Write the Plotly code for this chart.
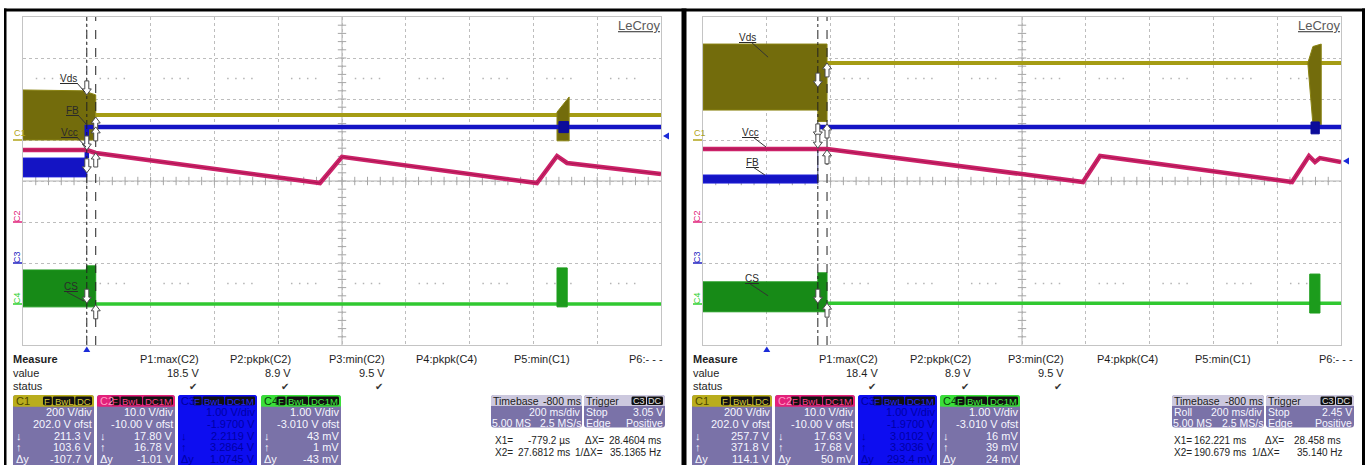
import numpy as np
import plotly.graph_objects as go

# ======================= DATA =======================
# Trace levels read off the two LeCroy captures.
# time axis: divisions 0..10 (200 ms/div), level axis: divisions -4..+4

# ---------- left capture ----------
L_CURSORS = [1.0, 1.14]
L_TRIG_T = 1.0
L_TRIG_LEVEL = 1.10
L_VDS_SW_T = [0.0, 0.95, 1.14]
L_VDS_SW_HI = [2.22, 2.20, 2.10]
L_VDS_SW_LO = [1.0, 1.0, 1.0]
L_VDS_T = [1.14, 10.0]
L_VDS_V = [1.61, 1.61]
L_VDS_BURST_T = [8.37, 8.56]
L_VDS_BURST_HI = [1.68, 2.05]
L_VDS_BURST_LO = [0.98, 0.98]
L_FB_SW_T = [0.0, 1.0]
L_FB_SW_HI = [0.56, 0.56]
L_FB_SW_LO = [0.10, 0.10]
L_FB_T = [1.0, 1.0, 10.0]
L_FB_V = [0.56, 1.32, 1.32]
L_FB_BURST_T = [8.40, 8.55]
L_FB_BURST_HI = [1.45, 1.45]
L_FB_BURST_LO = [1.18, 1.18]
L_VCC_T = [0.0, 1.0, 1.14, 4.655, 5.0, 8.056, 8.37, 8.527, 10.0]
L_VCC_V = [0.756, 0.756, 0.683, -0.05, 0.59, -0.05, 0.61, 0.44, 0.17]
L_CS_SW_T = [0.0, 0.99, 1.0, 1.14]
L_CS_SW_HI = [-2.17, -2.17, -2.07, -2.07]
L_CS_SW_LO = [-3.07, -3.07, -3.07, -3.07]
L_CS_T = [1.14, 10.0]
L_CS_V = [-3.0, -3.0]
L_CS_BURST_T = [8.37, 8.53]
L_CS_BURST_HI = [-2.12, -2.12]
L_CS_BURST_LO = [-3.07, -3.07]
# cursor read-outs marked by arrows: (cursor index, level, direction)
L_ARROWS = [(0, 2.10, 'down'), (1, 1.56, 'up'), (0, 0.20, 'down'), (1, 1.32, 'up'),
            (0, 0.756, 'down'), (1, 0.683, 'up'), (0, -2.98, 'down'), (1, -3.02, 'up')]

# ---------- right capture ----------
R_CURSORS = [1.80, 1.944]
R_TRIG_T = 1.0
R_TRIG_LEVEL = 0.49
R_VDS_SW_T = [0.0, 1.80, 1.80, 1.944]
R_VDS_SW_HI = [3.34, 3.34, 3.34, 3.34]
R_VDS_SW_LO = [1.73, 1.73, 1.45, 1.45]
R_VDS_T = [1.944, 10.0]
R_VDS_V = [2.88, 2.88]
R_VDS_BURST_T = [9.48, 9.56, 9.69]
R_VDS_BURST_HI = [2.88, 3.28, 3.34]
R_VDS_BURST_LO = [2.88, 1.37, 1.37]
R_FB_SW_T = [0.0, 1.80]
R_FB_SW_HI = [0.146, 0.146]
R_FB_SW_LO = [-0.05, -0.05]
R_FB_EDGE_T = [1.80, 1.80]
R_FB_EDGE_V = [0.0, 1.32]
R_FB_T = [1.80, 10.0]
R_FB_V = [1.32, 1.32]
R_FB_BURST_T = [9.53, 9.66]
R_FB_BURST_HI = [1.44, 1.44]
R_FB_BURST_LO = [1.15, 1.15]
R_VCC_T = [0.0, 1.944, 5.956, 6.223, 9.232, 9.498, 9.592, 9.67, 10.0]
R_VCC_V = [0.78, 0.78, -0.024, 0.61, -0.024, 0.61, 0.463, 0.56, 0.463]
R_CS_SW_T = [0.0, 1.80, 1.80, 1.944]
R_CS_SW_HI = [-2.46, -2.46, -2.24, -2.24]
R_CS_SW_LO = [-3.19, -3.19, -3.19, -3.19]
R_CS_T = [1.944, 10.0]
R_CS_V = [-2.98, -2.98]
R_CS_BURST_T = [9.51, 9.67]
R_CS_BURST_HI = [-2.27, -2.27]
R_CS_BURST_LO = [-3.22, -3.22]
R_ARROWS = [(0, 2.29, 'down'), (1, 2.88, 'up'), (0, 1.05, 'down'), (1, 1.39, 'up'),
            (0, 0.80, 'down'), (1, 0.76, 'up'), (0, -2.98, 'down'), (1, -2.98, 'up')]

# ---------- measurement texts ----------
MEAS_NAMES = ["P1:max(C2)", "P2:pkpk(C2)", "P3:min(C2)", "P4:pkpk(C4)", "P5:min(C1)", "P6:- - -"]
L_MEAS_VALUES = ["18.5 V", "8.9 V", "9.5 V"]
R_MEAS_VALUES = ["18.4 V", "8.9 V", "9.5 V"]
CH_TAGS = [["F", "BwL", "DC"], ["F", "BwL", "DC1M"], ["F", "BwL", "DC1M"], ["F", "BwL", "DC1M"]]
L_CH_ROWS = [["200 V/div", "202.0 V ofst", "211.3 V", "103.6 V", "-107.7 V"],
             ["10.0 V/div", "-10.00 V ofst", "17.80 V", "16.78 V", "-1.01 V"],
             ["1.00 V/div", "-1.9700 V", "2.2119 V", "3.2864 V", "1.0745 V"],
             ["1.00 V/div", "-3.010 V ofst", "43 mV", "1 mV", "-43 mV"]]
R_CH_ROWS = [["200 V/div", "202.0 V ofst", "257.7 V", "371.8 V", "114.1 V"],
             ["10.0 V/div", "-10.00 V ofst", "17.63 V", "17.68 V", "50 mV"],
             ["1.00 V/div", "-1.9700 V", "3.0102 V", "3.3036 V", "293.4 mV"],
             ["1.00 V/div", "-3.010 V ofst", "16 mV", "39 mV", "24 mV"]]
L_TB = dict(mode="", stop="3.05 V", x1="-779.2 µs", x2="27.6812 ms", dx="28.4604 ms", inv="35.1365 Hz")
R_TB = dict(mode="Roll", stop="2.45 V", x1="162.221 ms", x2="190.679 ms", dx="28.458 ms", inv="35.140 Hz")

# ======================= LAYOUT / DRAWING =======================
W, H = 1371, 465
FONT = "Liberation Sans, Arial, sans-serif"
GX = [23, 703]
GW, GT, GB = 638, 17, 345
PXX = GW / 10.0
PXY = (GB - GT) / 8.0

VDS_FILL, VDS_LINE = "#736c0c", "#a59c14"
FB_COL = "#1414c4"
VCC_COL = "#cc2269"
CS_FILL, CS_LINE = "#178a17", "#30c830"
BODY = "#7a72a8"
HEADLIGHT = "#ccc8de"

fig = go.Figure()
shapes, anns = [], []


def pp(x, y):
    return f"{x / W:.5f},{1 - y / H:.5f}"


def txt(x, y, s, size=11, color="#222", anchor="left", angle=0):
    anns.append(dict(xref="paper", yref="paper", x=x / W, y=1 - y / H, text=s, showarrow=False,
                     xanchor=anchor, yanchor="middle", textangle=angle, borderpad=0, borderwidth=0,
                     font=dict(family=FONT, size=size, color=color)))


def rect(x0, y0, x1, y1, fill):
    shapes.append(dict(type="rect", xref="paper", yref="paper", x0=x0 / W, x1=x1 / W,
                       y0=1 - y1 / H, y1=1 - y0 / H, fillcolor=fill, line=dict(width=0), layer="above"))


def rrect(x0, y0, x1, y1, r, fill):
    path = (f"M {pp(x0 + r, y0)} L {pp(x1 - r, y0)} Q {pp(x1, y0)} {pp(x1, y0 + r)} "
            f"L {pp(x1, y1 - r)} Q {pp(x1, y1)} {pp(x1 - r, y1)} L {pp(x0 + r, y1)} "
            f"Q {pp(x0, y1)} {pp(x0, y1 - r)} L {pp(x0, y0 + r)} Q {pp(x0, y0)} {pp(x0 + r, y0)} Z")
    shapes.append(dict(type="path", xref="paper", yref="paper", path=path, fillcolor=fill,
                       line=dict(width=0), layer="above"))


def pline(x0, y0, x1, y1, color, width=1):
    shapes.append(dict(type="line", xref="paper", yref="paper", x0=x0 / W, x1=x1 / W,
                       y0=1 - y0 / H, y1=1 - y1 / H, line=dict(color=color, width=width), layer="above"))


def ppoly(pts, fill):
    path = "M " + " L ".join(pp(a, b) for a, b in pts) + " Z"
    shapes.append(dict(type="path", xref="paper", yref="paper", path=path, fillcolor=fill,
                       line=dict(width=0), layer="above"))


def ax(i):
    return ("x", "y") if i == 0 else ("x2", "y2")


def line_tr(i, t, v, color, width):
    xa, ya = ax(i)
    fig.add_trace(go.Scatter(x=t, y=v, mode="lines", line=dict(color=color, width=width),
                             xaxis=xa, yaxis=ya, hoverinfo="skip", showlegend=False))


def env_tr(i, t, lo, hi, color, edge=None):
    xa, ya = ax(i)
    xs = list(t) + list(t)[::-1]
    ys = list(hi) + list(lo)[::-1]
    fig.add_trace(go.Scatter(x=xs + [xs[0]], y=ys + [ys[0]], mode="lines", fill="toself",
                             fillcolor=color, line=dict(color=edge or color, width=1),
                             xaxis=xa, yaxis=ya, hoverinfo="skip", showlegend=False))


def arrow(i, t, v, d):
    xa, ya = ax(i)
    hw, sw, hh, L = 4.5 / PXX, 2.0 / PXX, 6.0 / PXY, 14.0 / PXY
    s = 1 if d == "down" else -1
    pts = [(t, v), (t - hw, v + s * hh), (t - sw, v + s * hh), (t - sw, v + s * L),
           (t + sw, v + s * L), (t + sw, v + s * hh), (t + hw, v + s * hh)]
    path = "M " + " L ".join(f"{a:.4f},{b:.4f}" for a, b in pts) + " Z"
    shapes.append(dict(type="path", xref=xa, yref=ya, path=path, fillcolor="white",
                       line=dict(color="#4a4a4a", width=1), layer="above"))


def dline(i, x0, y0, x1, y1, color, width=1, dash="solid", layer="above"):
    xa, ya = ax(i)
    shapes.append(dict(type="line", xref=xa, yref=ya, x0=x0, y0=y0, x1=x1, y1=y1,
                       line=dict(color=color, width=width, dash=dash), layer=layer))


def label(i, t, v, s, leader):
    xa, ya = ax(i)
    anns.append(dict(xref=xa, yref=ya, x=t, y=v, text=f"<u>{s}</u>", showarrow=False,
                     xanchor="center", yanchor="middle", borderpad=0,
                     font=dict(family=FONT, size=10, color="#2a2a2a")))
    (a, b), (c, d) = leader
    dline(i, a, b, c, d, "#333333", 1)


PANEL = [
    dict(cur=L_CURSORS, trig_t=L_TRIG_T, trig_lv=L_TRIG_LEVEL,
         vds=(L_VDS_SW_T, L_VDS_SW_LO, L_VDS_SW_HI, L_VDS_T, L_VDS_V, L_VDS_BURST_T, L_VDS_BURST_LO, L_VDS_BURST_HI),
         fb=(L_FB_SW_T, L_FB_SW_LO, L_FB_SW_HI, L_FB_T, L_FB_V, L_FB_BURST_T, L_FB_BURST_LO, L_FB_BURST_HI),
         vcc=(L_VCC_T, L_VCC_V),
         cs=(L_CS_SW_T, L_CS_SW_LO, L_CS_SW_HI, L_CS_T, L_CS_V, L_CS_BURST_T, L_CS_BURST_LO, L_CS_BURST_HI),
         arrows=L_ARROWS),
    dict(cur=R_CURSORS, trig_t=R_TRIG_T, trig_lv=R_TRIG_LEVEL,
         vds=(R_VDS_SW_T, R_VDS_SW_LO, R_VDS_SW_HI, R_VDS_T, R_VDS_V, R_VDS_BURST_T, R_VDS_BURST_LO, R_VDS_BURST_HI),
         fb=(R_FB_SW_T, R_FB_SW_LO, R_FB_SW_HI, R_FB_T, R_FB_V, R_FB_BURST_T, R_FB_BURST_LO, R_FB_BURST_HI),
         vcc=(R_VCC_T, R_VCC_V),
         cs=(R_CS_SW_T, R_CS_SW_LO, R_CS_SW_HI, R_CS_T, R_CS_V, R_CS_BURST_T, R_CS_BURST_LO, R_CS_BURST_HI),
         arrows=R_ARROWS),
]

# label placements (layout, in screen divisions)
LABELS = [
    [("Vds", 0.713, 2.51, ((0.846, 2.39), (0.97, 2.17))),
     ("FB", 0.768, 1.73, ((0.862, 1.61), (1.0, 1.37))),
     ("Vcc", 0.729, 1.195, ((0.846, 1.07), (0.987, 0.83))),
     ("CS", 0.76, -2.585, ((0.69, -2.71), (0.956, -2.93)))],
    [("Vds", 0.705, 3.49, ((0.768, 3.37), (1.02, 3.02))),
     ("Vcc", 0.752, 1.195, ((0.784, 1.07), (0.987, 0.83))),
     ("FB", 0.768, 0.463, ((0.784, 0.34), (0.97, 0.146))),
     ("CS", 0.768, -2.37, ((0.72, -2.49), (1.02, -2.8)))],
]

tick_x = np.round(np.arange(0.2, 10.0, 0.2), 3)
tick_y = np.round(np.arange(-3.8, 4.0, 0.2), 3)

for i, D in enumerate(PANEL):
    xa, ya = ax(i)
    # centre graticule ticks
    fig.add_trace(go.Scatter(x=tick_x, y=np.zeros_like(tick_x), mode="markers", xaxis=xa, yaxis=ya,
                             marker=dict(symbol="line-ns", size=6, line=dict(width=1, color="#a6a6a6")),
                             hoverinfo="skip", showlegend=False))
    fig.add_trace(go.Scatter(x=np.full_like(tick_y, 5.0), y=tick_y, mode="markers", xaxis=xa, yaxis=ya,
                             marker=dict(symbol="line-ew", size=6, line=dict(width=1, color="#a6a6a6")),
                             hoverinfo="skip", showlegend=False))
    # Vds
    t, lo, hi, lt, lv, bt, blo, bhi = D["vds"]
    env_tr(i, t, lo, hi, VDS_FILL, "#8a8312")
    line_tr(i, lt, lv, VDS_LINE, 4)
    env_tr(i, bt, blo, bhi, VDS_FILL, "#8a8312")
    # FB
    t, lo, hi, lt, lv, bt, blo, bhi = D["fb"]
    env_tr(i, t, lo, hi, FB_COL, "#1e1ed8")
    if i == 1:
        line_tr(i, R_FB_EDGE_T, R_FB_EDGE_V, "#3a3a7a", 1)
    line_tr(i, lt, lv, FB_COL, 4.5)
    env_tr(i, bt, blo, bhi, "#0c0c9a")
    # Vcc
    line_tr(i, D["vcc"][0], D["vcc"][1], VCC_COL, 4.5)
    line_tr(i, D["vcc"][0], D["vcc"][1], "#a8164f", 1)
    # CS
    t, lo, hi, lt, lv, bt, blo, bhi = D["cs"]
    env_tr(i, t, lo, hi, CS_FILL, "#1e9a1e")
    line_tr(i, lt, lv, CS_LINE, 3.5)
    env_tr(i, bt, blo, bhi, "#1c9c1c")

    # graticule extras (beneath the traces)
    dline(i, 5, -4, 5, 4, "#b0b0b0", 1, layer="below")
    dline(i, 0, 0, 10, 0, "#b0b0b0", 1, layer="below")
    for lvl in (2.5, -2.5):
        dline(i, 0.2, lvl, 10, lvl, "#b4b4b4", 1.5,
              "1.5px,6.5px,1.5px,6.5px,1.5px,6.5px,1.5px,38.3px", layer="below")
    # cursors
    dline(i, D["cur"][0], -4, D["cur"][0], 4, "#222222", 1, "dashdot")
    dline(i, D["cur"][1], -4, D["cur"][1], 4, "#222222", 1, "dash")
    for ci, lvl, d in D["arrows"]:
        arrow(i, D["cur"][ci], lvl, d)
    for s, t0, v0, ld in LABELS[i]:
        label(i, t0, v0, s, ld)

    # trigger markers (bottom and right edge)
    gx = GX[i]
    tx = gx + D["trig_t"] * PXX
    ppoly([(tx, GB + 1.5), (tx - 3.5, GB + 7), (tx + 3.5, GB + 7)], "#1a2ad8")
    ty = GT + (4 - D["trig_lv"]) * PXY
    ppoly([(gx + GW + 2, ty), (gx + GW + 8, ty - 3.5), (gx + GW + 8, ty + 3.5)], "#1a2ad8")

    # channel markers on the left margin
    mx = gx - 10
    txt(mx + 1, GT + (4 - 1.0) * PXY - 7, "C1", 9, "#b0a418")
    pline(mx, GT + 3 * PXY, gx - 1, GT + 3 * PXY, "#b0a418", 1.5)
    for lvl, name, col in ((-1.0, "C2", "#e0207a"), (-2.0, "C3", "#2020c0"), (-3.0, "C4", "#30d030")):
        yy = GT + (4 - lvl) * PXY
        txt(mx + 4, yy - 6, name, 9, col, "center", -90)
        pline(mx, yy, gx - 1, yy, col, 1.5)

    # LeCroy logo
    txt(gx + GW - 22, 26, "<u>LeCroy</u>", 13, "#5a5a5a", "center")

# ---------------- frames ----------------
rect(4, 8.5, 1365, 11.5, "#000000")
rect(4, 8.5, 6.5, 466, "#000000")
rect(681.5, 8.5, 686.5, 466, "#000000")
rect(1362, 8.5, 1365, 466, "#000000")

# ---------------- measurement area ----------------
CW = {"D": .722, "C": .722, "M": .833, "B": .667, "L": .556, "F": .611, "w": .722}


def tw(s, size):
    return sum(CW.get(c, .556) for c in s) * size


def tags(xr, y0, y1, items, fill, tcol, size=9.5):
    for tg in reversed(items):
        w = tw(tg, size) + 3
        rrect(xr - w, y0, xr, y1, 1.5, fill)
        txt(xr - w / 2, (y0 + y1) / 2 + 0.3, tg, size, tcol, "center")
        xr -= w + 1


CH_STYLE = [
    dict(head="#b9ad1d", body=BODY, name_col="#4c4700", tag_col="#d4c838", txt_col="#f6f6ff"),
    dict(head="#e3217b", body=BODY, name_col="#ff9cc4", tag_col="#ff3d8e", txt_col="#f6f6ff"),
    dict(head="#0d0df0", body="#0d0df0", name_col="#00009a", tag_col="#2323ff", txt_col="#0000a6"),
    dict(head="#3ae03a", body=BODY, name_col="#0b3d0b", tag_col="#40f040", txt_col="#f6f6ff"),
]


def chan_box(x0, x1, idx, rows):
    st = CH_STYLE[idx]
    rrect(x0, 395, x1, 474, 3, st["body"])
    rrect(x0, 395, x1, 406.5, 3, st["head"])
    rect(x0, 402.5, x1, 406.5, st["head"])
    txt(x0 + 3, 400.8, f"C{idx + 1}", 11, st["name_col"])
    tags(x1 - 2, 396.5, 405.3, CH_TAGS[idx], "#111111", st["tag_col"])
    ys = [412.3, 424.0, 435.7, 447.4, 459.0]
    for s, y in zip(rows, ys):
        txt(x1 - 2, y, s, 11, st["txt_col"], "right")
    for s, y in zip(["↓", "↑", "Δy"], ys[2:]):
        txt(x0 + 3, y, s, 11, st["txt_col"])


def tb_box(x0, x1, t0, t1, d, xl0, xr0, xl1, xr1, xl2, inv_r):
    fs = 10.5
    for a, b in ((x0, x1), (t0, t1)):
        rrect(a, 395, b, 427.5, 3, BODY)
        rrect(a, 395, b, 406, 3, HEADLIGHT)
        rect(a, 402, b, 406, HEADLIGHT)
    txt(x0 + 2, 400.6, "Timebase", fs, "#202020")
    txt(x1 - 1, 400.6, "-800 ms", fs, "#202020", "right")
    if d["mode"]:
        txt(x0 + 2, 412, d["mode"], fs, "#f6f6ff")
    txt(x1 - 1, 412, "200 ms/div", fs, "#f6f6ff", "right")
    txt(x0 + 1, 422.5, "5.00 MS", fs, "#f6f6ff")
    txt(x1 - 1, 422.5, "2.5 MS/s", fs, "#f6f6ff", "right")
    txt(t0 + 2, 400.6, "Trigger", fs, "#202020")
    tags(t1 - 2, 396.5, 405, ["C3", "DC"], "#111111", "#e6e6e6", 9)
    txt(t0 + 2, 412, "Stop", fs, "#f6f6ff")
    txt(t1 - 2, 412, d["stop"], fs, "#f6f6ff", "right")
    txt(t0 + 2, 422.5, "Edge", fs, "#f6f6ff")
    txt(t1 - 2, 422.5, "Positive", fs, "#f6f6ff", "right")
    # cursor read-outs
    fr = 10
    txt(xl0, 440, "X1=", fr, "#222")
    txt(xr0, 440, d["x1"], fr, "#222", "right")
    txt(xl1, 440, "ΔX=", fr, "#222")
    txt(xr1, 440, d["dx"], fr, "#222", "right")
    txt(xl0, 452, "X2=", fr, "#222")
    txt(xr0, 452, d["x2"], fr, "#222", "right")
    txt(xl2, 452, "1/ΔX=", fr, "#222")
    txt(inv_r, 452, d["inv"], fr, "#222", "right")


MEAS = [
    dict(x=13, px=[199, 291, 385, 477, 570, 663], vals=L_MEAS_VALUES, rows=L_CH_ROWS,
         boxes=[(13, 94), (97, 175), (178, 257), (261, 341)]),
    dict(x=693, px=[878, 971, 1064, 1158, 1251, 1353], vals=R_MEAS_VALUES, rows=R_CH_ROWS,
         boxes=[(692, 772), (775, 855), (858, 937), (940, 1020)]),
]
for i, M in enumerate(MEAS):
    txt(M["x"], 359, "<b>Measure</b>", 11, "#1e1e1e")
    txt(M["x"], 372.5, "value", 11, "#1e1e1e")
    txt(M["x"], 386, "status", 11, "#1e1e1e")
    for nm, xr in zip(MEAS_NAMES, M["px"]):
        txt(xr, 359, nm, 11, "#1e1e1e", "right")
    for v, xr in zip(M["vals"], M["px"]):
        txt(xr, 372.5, v, 11, "#1e1e1e", "right")
        txt(xr - 6, 386, "✔", 10, "#333333", "center")
    for k, (a, b) in enumerate(M["boxes"]):
        chan_box(a, b, k, M["rows"][k])

tb_box(491, 582, 584, 665, L_TB, 495, 570, 585, 661, 575, 661)
tb_box(1172, 1264, 1266, 1354, R_TB, 1174, 1246, 1265, 1341, 1252, 1343)

# ---------------- axes ----------------
axc = dict(showticklabels=False, ticks="", zeroline=False, showgrid=True, griddash="dot",
           gridcolor="#bdbdbd", gridwidth=1, showline=True, mirror=True, linecolor="#c4c4c4",
           linewidth=1, fixedrange=True, dtick=1, tick0=0)
fig.update_layout(
    width=W, height=H, autosize=False, margin=dict(l=0, r=0, t=0, b=0),
    paper_bgcolor="white", plot_bgcolor="white", showlegend=False,
    xaxis=dict(axc, domain=[GX[0] / W, (GX[0] + GW) / W], range=[0, 10], anchor="y"),
    yaxis=dict(axc, domain=[1 - GB / H, 1 - GT / H], range=[-4, 4], anchor="x"),
    xaxis2=dict(axc, domain=[GX[1] / W, (GX[1] + GW) / W], range=[0, 10], anchor="y2"),
    yaxis2=dict(axc, domain=[1 - GB / H, 1 - GT / H], range=[-4, 4], anchor="x2"),
    shapes=shapes, annotations=anns,
)
fig.write_html("out.html", config={"displayModeBar": False},
               post_script="document.body.style.margin='0';document.body.style.overflow='hidden';")
